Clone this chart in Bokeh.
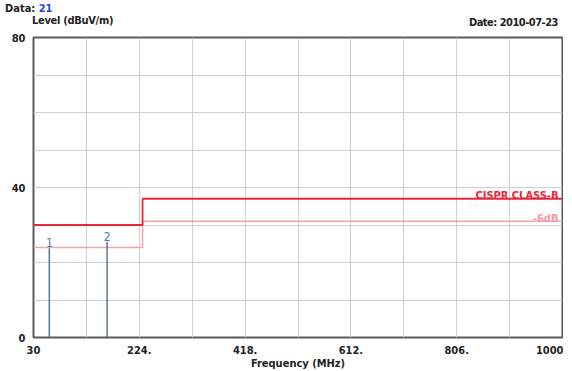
from bokeh.plotting import figure
from bokeh.models import FixedTicker, Label, Range1d, Div
from bokeh.layouts import column
from bokeh.core.properties import value
from bokeh.embed import file_html
from bokeh.resources import INLINE

# ---- data ----
limit_freq = [30, 230, 230, 1000]
limit_level = [30, 30, 37, 37]
margin_level = [24, 24, 31, 31]
marker_freq = [59, 165]
marker_level = [23.8, 25.5]
marker_names = ["1", "2"]
x_ticks = [30, 224, 418, 612, 806, 1000]
x_tick_labels = ["30", "224.", "418.", "612.", "806.", "1000"]
x_grid = [30, 127, 224, 321, 418, 515, 612, 709, 806, 903, 1000]
y_ticks = [0, 40, 80]
y_grid = [0, 10, 20, 30, 40, 50, 60, 70, 80]
data_no = "21"
date_text = "2010-07-23"
y_title = "Level (dBuV/m)"
x_title = "Frequency (MHz)"
limit_name = "CISPR CLASS-B"
margin_name = "-6dB"

FONT = "'DejaVu Sans Condensed', 'Liberation Sans Narrow', 'Liberation Sans'"

header = Div(width=563, height=33, styles={"margin": "0", "padding": "0"}, text=(
    f'<div style="position:relative;width:563px;height:33px;font-family:{FONT};'
    'font-weight:bold;font-size:11px;color:#222222;line-height:12px">'
    f'<span style="position:absolute;left:5px;top:3px;white-space:nowrap">Data: '
    f'<span style="color:#2b3fd6">{data_no}</span></span>'
    f'<span style="position:absolute;left:32px;top:15px;white-space:nowrap;letter-spacing:-0.3px">{y_title}</span>'
    f'<span style="position:absolute;right:5px;top:17px;white-space:nowrap;letter-spacing:-0.5px">Date: {date_text}</span>'
    '</div>'))

p = figure(width=563, height=339, output_backend="svg", toolbar_location=None,
           x_range=Range1d(30, 1000), y_range=Range1d(0, 80),
           min_border_left=33, min_border_right=1, min_border_top=4, min_border_bottom=34)
p.background_fill_color = "white"
p.border_fill_color = "white"
p.outline_line_color = "#5a5a5a"
p.outline_line_width = 2

p.xaxis.ticker = FixedTicker(ticks=x_ticks)
p.xaxis.major_label_overrides = {t: l for t, l in zip(x_ticks, x_tick_labels)}
p.yaxis.ticker = FixedTicker(ticks=y_ticks)
p.xgrid.ticker = FixedTicker(ticks=x_grid)
p.ygrid.ticker = FixedTicker(ticks=y_grid)
for g in (p.xgrid, p.ygrid):
    g.grid_line_color = "#cfcfcf"
    g.grid_line_width = 1

for ax in (p.xaxis, p.yaxis):
    ax.axis_line_color = None
    ax.major_tick_line_color = None
    ax.minor_tick_line_color = None
    ax.major_label_text_font = FONT
    ax.major_label_text_font_style = "bold"
    ax.major_label_text_font_size = "11px"
    ax.major_label_text_color = "#222222"
    ax.major_label_standoff = 2

p.xaxis.axis_label = x_title
p.xaxis.axis_label_text_font = FONT
p.xaxis.axis_label_text_font_style = "bold"
p.xaxis.axis_label_text_font_size = "11px"
p.xaxis.axis_label_text_color = "#222222"
p.xaxis.axis_label_standoff = 0

# limit lines
p.line(limit_freq, margin_level, line_color="#f4a3a8", line_width=1.5)
p.line(limit_freq, limit_level, line_color="#e8283a", line_width=1.8)

# markers
p.segment(x0=marker_freq, y0=[0] * len(marker_freq), x1=marker_freq, y1=marker_level,
          line_color="#56789e", line_width=1.5)
p.text(x=marker_freq, y=marker_level, text=marker_names, text_align="center",
       text_baseline="bottom", text_color="#56789e", text_font=value(FONT),
       text_font_size="12px", y_offset=-1)

# limit names
def lab(text, y, color):
    p.add_layout(Label(x=1000, y=y, x_offset=-4, y_offset=3, text=text, text_color=color,
                       text_align="right", text_baseline="alphabetic", text_font=FONT,
                       text_font_style="bold", text_font_size="11px"))

lab(limit_name, 37, "#e8283a")
lab(margin_name, 31, "#f29aa0")

layout = column(header, p, spacing=0)
open("out.html", "w").write(file_html(layout, INLINE))
